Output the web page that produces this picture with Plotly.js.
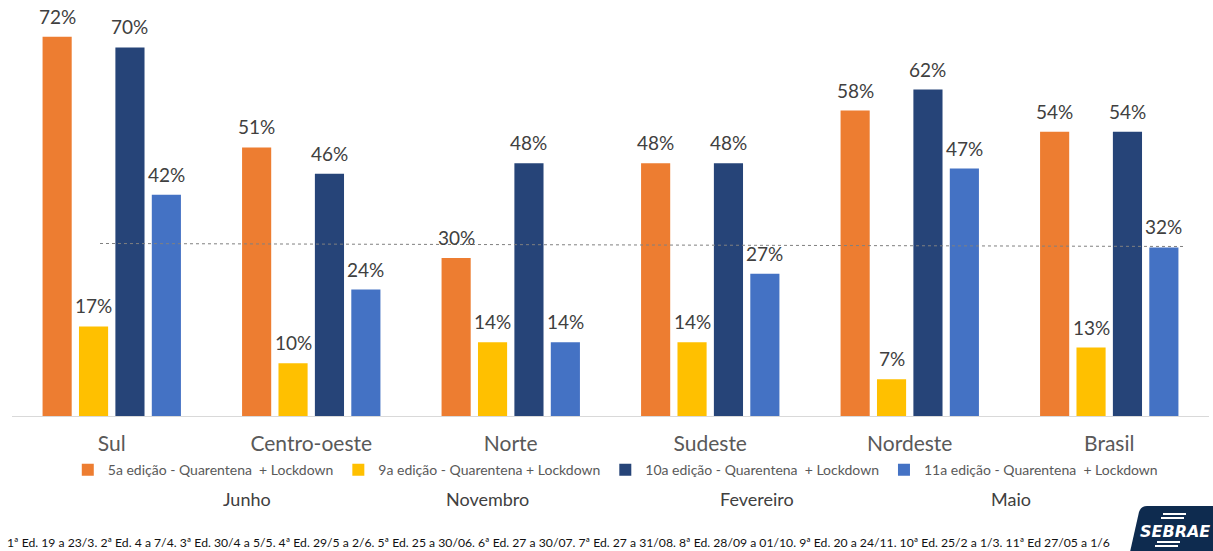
<!DOCTYPE html>
<html>
<head>
<meta charset="utf-8">
<script src="https://cdn.plot.ly/plotly-3.0.1.min.js"></script>
<style>
  html, body { margin: 0; padding: 0; background: #ffffff; }
  #chart { width: 1213px; height: 551px; }
</style>
</head>
<body>
<div id="chart"></div>
<script>
// Regiões e percentual de empresas em quarentena + lockdown por edição da pesquisa
const regions = ['Sul', 'Centro-oeste', 'Norte', 'Sudeste', 'Nordeste', 'Brasil'];

const ed5Values  = [72, 51, 30, 48, 58, 54];
const ed9Values  = [17, 10, 14, 14, 7, 13];
const ed10Values = [70, 46, 48, 48, 62, 54];
const ed11Values = [42, 24, 14, 27, 47, 32];

const seriesNames = [
  '5a edição - Quarentena  + Lockdown',
  '9a edição - Quarentena + Lockdown',
  '10a edição - Quarentena  + Lockdown',
  '11a edição - Quarentena  + Lockdown'
];
const seriesColors = ['#ED7D31', '#FFC000', '#264478', '#4472C4'];
const seriesValues = [ed5Values, ed9Values, ed10Values, ed11Values];

const monthLabels = ['Junho', 'Novembro', 'Fevereiro', 'Maio'];

const footnote = '1ª Ed. 19 a 23/3. 2ª Ed. 4 a 7/4. 3ª Ed. 30/4 a 5/5. 4ª Ed. 29/5 a 2/6. 5ª Ed. 25 a 30/06. 6ª Ed. 27 a 30/07. 7ª Ed. 27 a 31/08. 8ª Ed. 28/09 a 01/10. 9ª Ed. 20 a 24/11. 10ª Ed. 25/2 a 1/3. 11ª Ed 27/05 a 1/6';

// Nível de referência: 11a edição, Brasil
const brasilLevel = ed11Values[regions.indexOf('Brasil')];

const FONT = 'Lato, "Open Sans", sans-serif';

const W = 1213, H = 551;
const M = { l: 12, r: 4, t: 0, b: 135 };
const BARGAP = 0.27;
const plotW = W - M.l - M.r;
const catPx = plotW / regions.length;
const slotPx = (1 - BARGAP) / seriesValues.length * catPx;

const traces = seriesValues.map((vals, i) => ({
  type: 'bar',
  name: seriesNames[i],
  x: regions,
  y: vals,
  marker: { color: seriesColors[i] },
  hoverinfo: 'skip'
}));

const annotations = [];

// Rótulos de valor acima de cada barra
seriesValues.forEach((vals, i) => {
  const shift = (i - (seriesValues.length - 1) / 2) * slotPx;
  vals.forEach((v, j) => {
    annotations.push({
      text: v + '%',
      xref: 'x', yref: 'y',
      x: regions[j], y: v,
      xshift: shift, yshift: 7,
      xanchor: 'center', yanchor: 'bottom',
      showarrow: false,
      font: { family: FONT, size: 19, color: '#404040' }
    });
  });
});

// Rótulos dos meses sob a legenda
const monthX = [0.196, 0.397, 0.622, 0.835];
monthLabels.forEach((m, i) => {
  annotations.push({
    text: m,
    xref: 'paper', yref: 'paper',
    x: monthX[i], y: -0.2,
    xanchor: 'center', yanchor: 'middle',
    showarrow: false,
    font: { family: FONT, size: 18, color: '#404040' }
  });
});

annotations.push({
  text: footnote,
  xref: 'paper', yref: 'paper',
  x: -0.006, y: -0.305,
  xanchor: 'left', yanchor: 'middle',
  showarrow: false,
  font: { family: FONT, size: 12.2, color: '#111111' }
});

// Logotipo
annotations.push({
  text: '<b><i>SEBRAE</i></b>',
  xref: 'paper', yref: 'paper',
  x: 0.972, y: -0.277,
  xanchor: 'center', yanchor: 'middle',
  showarrow: false,
  font: { family: '"DejaVu Sans", sans-serif', size: 16, color: '#ffffff' }
});

const px = p => (p - M.l) / plotW;
const py = p => (H - M.b - p) / (H - M.b - M.t);

const shapes = [
  {
    type: 'line', xref: 'paper', yref: 'y',
    ysizemode: 'pixel', yanchor: brasilLevel,
    x0: px(100), x1: px(1183), y0: 4, y1: 1,
    line: { color: '#808080', width: 1, dash: 'dot' },
    layer: 'above'
  },
  {
    type: 'path', xref: 'paper', yref: 'paper',
    path: `M ${px(1130)} ${py(552)} L ${px(1139)} ${py(512)} Q ${px(1141)} ${py(506)} ${px(1147)} ${py(506)} L ${px(1214)} ${py(506)} L ${px(1214)} ${py(552)} Z`,
    fillcolor: '#0E2B4F', line: { width: 0 }
  },
  {
    type: 'path', xref: 'paper', yref: 'paper',
    path: `M ${px(1163)} ${py(514)} L ${px(1186)} ${py(514)} M ${px(1161)} ${py(518)} L ${px(1184)} ${py(518)} M ${px(1157)} ${py(542)} L ${px(1180)} ${py(542)} M ${px(1155)} ${py(546)} L ${px(1178)} ${py(546)}`,
    line: { color: '#ffffff', width: 2 }
  }
];

const layout = {
  width: W,
  height: H,
  margin: { l: M.l, r: M.r, t: M.t, b: M.b, pad: 0 },
  paper_bgcolor: '#ffffff',
  plot_bgcolor: '#ffffff',
  barmode: 'group',
  bargap: BARGAP,
  bargroupgap: 0.2,
  showlegend: true,
  legend: {
    orientation: 'h',
    x: 0.504, xanchor: 'center',
    y: -0.13, yanchor: 'middle',
    font: { family: FONT, size: 14, color: '#595959' },
    traceorder: 'normal',
    itemclick: false, itemdoubleclick: false
  },
  xaxis: {
    type: 'category',
    showline: true,
    linecolor: '#D9D9D9',
    linewidth: 1,
    ticks: '',
    showgrid: false,
    zeroline: false,
    ticklabelstandoff: 9,
    tickfont: { family: FONT, size: 21, color: '#595959' },
    fixedrange: true
  },
  yaxis: {
    range: [0, 79],
    visible: false,
    showgrid: false,
    zeroline: false,
    fixedrange: true
  },
  annotations: annotations,
  shapes: shapes
};

Plotly.newPlot('chart', traces, layout, { displayModeBar: false, staticPlot: true });
</script>
</body>
</html>
